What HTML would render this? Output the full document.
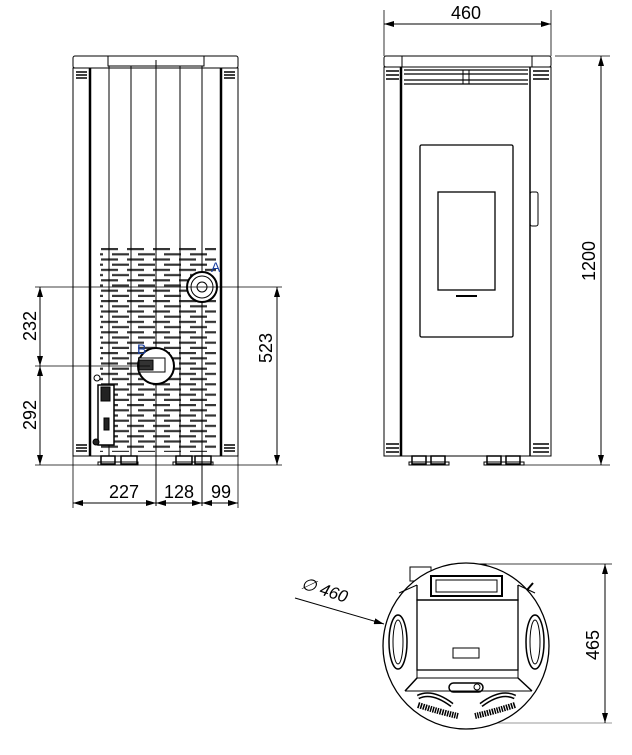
<!DOCTYPE html>
<html><head><meta charset="utf-8"><style>
html,body{margin:0;padding:0;background:#fff;width:632px;height:755px;overflow:hidden}
text{font-family:"Liberation Sans",sans-serif;fill:#000}
</style></head><body>
<svg width="632" height="755" viewBox="0 0 632 755" xmlns="http://www.w3.org/2000/svg">
<defs>
<marker id="ar" viewBox="0 0 10 6" refX="10" refY="3" markerWidth="10" markerHeight="6" orient="auto-start-reverse" markerUnits="userSpaceOnUse"><path d="M0,0 L10,3 L0,6 z" fill="#000"/></marker>
<pattern id="vent" x="100" y="247" width="26" height="10.4" patternUnits="userSpaceOnUse">
<rect x="1" y="1" width="17" height="2.2" fill="#333"/>
<rect x="12" y="6.2" width="17" height="2.2" fill="#333"/>
<rect x="-14" y="6.2" width="17" height="2.2" fill="#333"/>
</pattern>
</defs>
<g fill="none" stroke="#000" stroke-width="1">
<!-- LEFT VIEW -->
<rect x="73" y="56" width="165" height="12" rx="2"/>
<rect x="108" y="56" width="96" height="10"/>
<rect x="73" y="68" width="165" height="388"/>
<rect x="100" y="247" width="116" height="205" fill="url(#vent)" stroke="none"/>
<line x1="90" y1="68" x2="90" y2="456" stroke-width="2.5"/>
<line x1="221" y1="68" x2="221" y2="456" stroke-width="2.5"/>
<line x1="109" y1="66" x2="109" y2="456"/>
<line x1="131" y1="66" x2="131" y2="456"/>
<line x1="156" y1="60" x2="156" y2="506"/>
<line x1="180" y1="66" x2="180" y2="456"/>
<line x1="202" y1="66" x2="202" y2="506"/>
<path d="M76 72h11M76 75h11M76 78h11M224 72h11M224 75h11M224 78h11M76 445h11M76 448h11M76 451h11M224 445h11M224 448h11M224 451h11" stroke-width="1.5"/>
<circle cx="202" cy="287" r="15" fill="#fff" stroke-width="2"/>
<circle cx="202" cy="287" r="11"/>
<circle cx="202" cy="287" r="5"/>
<circle cx="156" cy="366" r="18" fill="#fff" stroke-width="2"/>
<rect x="139" y="358" width="26" height="14" fill="#fff"/>
<rect x="139" y="360" width="14" height="10" fill="#333"/>
<rect x="98" y="385" width="16" height="60" fill="#fff" stroke-width="1.5"/>
<rect x="101" y="387" width="9" height="14" fill="#222"/>
<rect x="104" y="418" width="5" height="12" fill="#222"/>
<circle cx="97" cy="378" r="3"/>
<circle cx="96" cy="442" r="3" fill="#222"/>
<g stroke-width="1.5"><rect x="101" y="456" width="14" height="8"/><rect x="121" y="456" width="16" height="8"/><rect x="176" y="456" width="16" height="8"/><rect x="195" y="456" width="16" height="8"/></g>
<rect x="98" y="462" width="40" height="3"/><rect x="173" y="462" width="40" height="3"/>
<!-- left dims -->
<line x1="35" y1="287" x2="282" y2="287" stroke-width="0.8"/>
<line x1="35" y1="366" x2="150" y2="366" stroke-width="0.8"/>
<line x1="35" y1="465" x2="282" y2="465" stroke-width="0.8"/>
<line x1="40" y1="287" x2="40" y2="366" marker-start="url(#ar)" marker-end="url(#ar)"/>
<line x1="40" y1="366" x2="40" y2="465" marker-start="url(#ar)" marker-end="url(#ar)"/>
<line x1="277" y1="287" x2="277" y2="465" marker-start="url(#ar)" marker-end="url(#ar)"/>
<line x1="73" y1="456" x2="73" y2="508" stroke-width="0.8"/>
<line x1="238" y1="456" x2="238" y2="508" stroke-width="0.8"/>
<line x1="73" y1="503" x2="156" y2="503" marker-start="url(#ar)" marker-end="url(#ar)"/>
<line x1="156" y1="503" x2="202" y2="503" marker-start="url(#ar)" marker-end="url(#ar)"/>
<line x1="202" y1="503" x2="238" y2="503" marker-start="url(#ar)" marker-end="url(#ar)"/>
<!-- RIGHT VIEW -->
<rect x="384" y="56" width="167" height="11" rx="2"/>
<line x1="402" y1="56" x2="402" y2="67"/><line x1="532" y1="56" x2="532" y2="67"/>
<rect x="384" y="67" width="167" height="389"/>
<line x1="401" y1="67" x2="401" y2="456" stroke-width="2.5"/>
<line x1="530" y1="67" x2="530" y2="456" stroke-width="1.5"/>
<path d="M404 70h124M404 74h124M404 80h124M404 84h124" stroke-width="1.2"/>
<rect x="463" y="70" width="6" height="14"/>
<path d="M386 71h13M386 75h13M386 79h13M533 71h16M533 75h16M533 79h16M386 444h13M386 448h13M386 452h13M533 444h16M533 448h16M533 452h16" stroke-width="1.5"/>
<rect x="420" y="145" width="93" height="192" rx="1.5" stroke-width="1.3"/>
<rect x="438" y="192" width="57" height="98" stroke-width="1.3"/>
<line x1="456" y1="296" x2="477" y2="296" stroke-width="2"/>
<rect x="530" y="192" width="8" height="34" rx="2"/>
<g stroke-width="1.5"><rect x="412" y="456" width="14" height="8"/><rect x="431" y="456" width="14" height="8"/><rect x="487" y="456" width="14" height="8"/><rect x="506" y="456" width="14" height="8"/></g>
<rect x="409" y="462" width="40" height="3"/><rect x="484" y="462" width="40" height="3"/>
<line x1="384" y1="10" x2="384" y2="56" stroke-width="0.8"/>
<line x1="551" y1="10" x2="551" y2="56" stroke-width="0.8"/>
<line x1="384" y1="24" x2="551" y2="24" marker-start="url(#ar)" marker-end="url(#ar)"/>
<line x1="555" y1="56" x2="610" y2="56" stroke-width="0.8"/>
<line x1="524" y1="465" x2="610" y2="465" stroke-width="0.8"/>
<line x1="601" y1="56" x2="601" y2="465" marker-start="url(#ar)" marker-end="url(#ar)"/>
<!-- TOP VIEW -->
<line x1="486" y1="564" x2="612" y2="564" stroke-width="0.8"/>
<line x1="466" y1="723" x2="612" y2="723" stroke="#999" stroke-width="1"/>
<line x1="605" y1="564" x2="605" y2="723" marker-start="url(#ar)" marker-end="url(#ar)"/>
<rect x="410" y="567" width="21" height="14"/>
<rect x="452" y="564" width="34" height="4"/>
<circle cx="466" cy="646" r="83" fill="#fff" stroke-width="1.3"/>
<rect x="431" y="576" width="71" height="20" stroke-width="2"/>
<rect x="436" y="580" width="61" height="12"/>
<path d="M417 585 L417 600 L518 600 L518 585" stroke-width="1.3"/>
<rect x="417" y="600" width="101" height="70" stroke-width="1.3"/>
<rect x="453" y="648" width="26" height="10"/>
<line x1="417" y1="670" x2="417" y2="678"/><line x1="518" y1="670" x2="518" y2="678"/>
<line x1="417" y1="678" x2="518" y2="678"/>
<line x1="417" y1="678" x2="405" y2="691" stroke-width="1.5"/>
<line x1="518" y1="678" x2="532" y2="691" stroke-width="1.5"/>
<line x1="405" y1="691" x2="532" y2="691"/>
<line x1="417" y1="585" x2="399" y2="593"/><line x1="518" y1="585" x2="535" y2="593"/>
<ellipse cx="398" cy="642" rx="9" ry="27" stroke-width="1.5"/>
<ellipse cx="398" cy="642" rx="5" ry="22"/>
<ellipse cx="535" cy="642" rx="9" ry="27" stroke-width="1.5"/>
<ellipse cx="535" cy="642" rx="5" ry="22"/>
<path d="M418 697 Q432 690 452 705" stroke-width="5"/>
<path d="M418 697 Q432 690 452 705" stroke="#fff" stroke-width="2"/>
<path d="M515 697 Q501 690 481 705" stroke-width="5"/>
<path d="M515 697 Q501 690 481 705" stroke="#fff" stroke-width="2"/>
<path d="M418 705 Q440 712 458 716" stroke-width="6" stroke-dasharray="1.5 1"/>
<path d="M515 705 Q493 712 475 716" stroke-width="6" stroke-dasharray="1.5 1"/>
<rect x="449" y="683" width="34" height="9" rx="4.5" stroke-width="1.5"/>
<circle cx="477" cy="687" r="3"/>
<line x1="295" y1="598" x2="384" y2="624" marker-end="url(#ar)"/>
<line x1="527" y1="590" x2="533" y2="583" stroke-width="2"/>
</g>
<g font-size="18" text-anchor="middle">
<text x="124" y="498">227</text>
<text x="179" y="498">128</text>
<text x="221" y="498">99</text>
<text x="466" y="19">460</text>
<text transform="translate(36,326) rotate(-90)">232</text>
<text transform="translate(36,415) rotate(-90)">292</text>
<text transform="translate(272,348) rotate(-90)">523</text>
<text transform="translate(595,261) rotate(-90)">1200</text>
<text transform="translate(599,645) rotate(-90)">465</text>
</g>
<text transform="translate(300,588) rotate(18)" font-size="17" font-style="italic">∅  460</text>
<text x="211" y="272" font-size="14" style="fill:#1a3fa0">A</text>
<text x="137" y="354" font-size="14" style="fill:#1a3fa0">B</text>
</svg>
</body></html>
